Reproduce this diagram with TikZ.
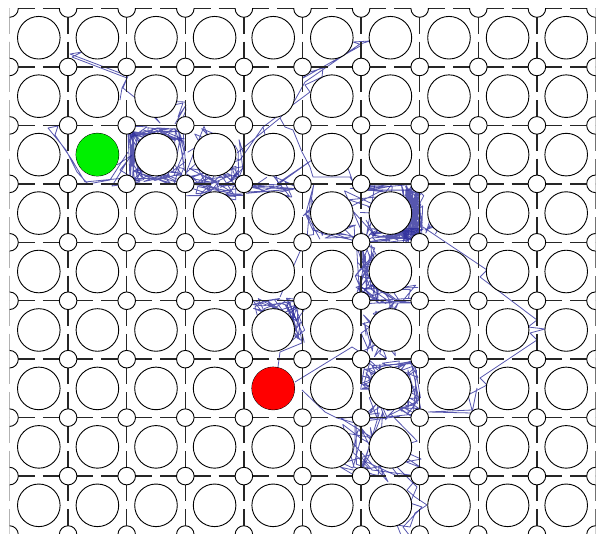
\documentclass[tikz,border=0pt]{standalone}
\definecolor{walkblue}{RGB}{45,45,155}
\definecolor{ggreen}{RGB}{0,240,0}
\definecolor{rred}{RGB}{255,0,0}
\begin{document}
\begin{tikzpicture}[x=1pt,y=-1pt,
  walk/.style={draw=walkblue,line width=0.8pt,draw opacity=0.8,line join=round},
  gridline/.style={draw=black!85,line width=1.5pt},
  smallc/.style={draw=black,fill=white,line width=0.9pt},
  bigc/.style={draw=black,fill=white,line width=0.9pt}]
\pgfmathsetseed{7}
\newcommand{\scrib}[5]{\draw[walk] ({#1+(#3-#1)*rnd},{#2+(#4-#2)*rnd}) \foreach \k in {1,...,#5}{ -- ({#1+(#3-#1)*rnd},{#2+(#4-#2)*rnd}) };}
\useasboundingbox (0,0) rectangle (600,534);
\fill[white] (0,0) rectangle (600,534);
\begin{scope}
\clip (9.5,8.5) rectangle (595.5,540);
% ---------- walks ----------
\draw[walk] (120,100) -- (122,88) -- (127,78) -- (72,57) -- (82,52) -- (70,54) -- (128,76) -- (123,88) -- (138,100) -- (185,102) -- (186,110) -- (180,125);
\draw[walk] (135,98) -- (160,123) -- (150,110) -- (183,103) -- (178,117) -- (186,105) -- (175,124);
\draw[walk] (128,152) -- (110,180) -- (88,184) -- (77,172) -- (66,150) -- (48,128) -- (58,126) -- (55,135) -- (72,160) -- (85,182) -- (125,178);
\draw[walk] (117,165) -- (132,155) -- (120,170) -- (140,182) -- (112,186) -- (128,160);
\scrib{128}{126}{185}{142}{40}
\scrib{128}{126}{142}{183}{30}
\scrib{128}{166}{185}{184}{40}
\scrib{172}{126}{186}{183}{15}
\scrib{186}{166}{245}{200}{55}
\scrib{186}{126}{245}{183}{18}
\scrib{230}{126}{245}{183}{10}
\scrib{240}{176}{302}{198}{20}
\draw[walk] (240,160) -- (263,127) -- (310,92) -- (305,85) -- (322,77) -- (323,68) -- (307,73) -- (303,78) -- (362,45) -- (353,42) -- (370,41) -- (360,44) -- (305,82) -- (295,100) -- (280,118) -- (237,153);
\draw[walk] (280,118) -- (285,127) -- (293,130) -- (302,152) -- (310,167) -- (313,177) -- (350,177) -- (353,182) -- (345,160);
\draw[walk] (263,127) -- (278,183) -- (312,160) -- (280,183);
\scrib{303}{182}{325}{245}{15}
\scrib{303}{225}{362}{245}{15}
\scrib{340}{178}{400}{246}{25}
\scrib{400}{184}{424}{243}{130}
\scrib{368}{228}{424}{243}{40}
\scrib{350}{183}{420}{192}{20}
\scrib{420}{182}{442}{238}{10}
\draw[walk] (423,227) -- (487,270) -- (480,277) -- (537,320) -- (528,327) -- (545,329) -- (530,333) -- (537,340) -- (480,378) -- (487,385) -- (468,395) -- (472,410) -- (428,412) -- (472,413) -- (477,388);
\scrib{355}{244}{380}{302}{45}
\scrib{355}{285}{420}{305}{30}
\draw[walk] (305,240) -- (280,297);
\scrib{245}{298}{305}{322}{35}
\scrib{285}{300}{305}{345}{20}
\draw[walk] (298,317) -- (302,343) -- (280,352) -- (278,367);
\scrib{360}{300}{400}{360}{40}
\scrib{360}{360}{422}{420}{80}
\draw[walk] (295,382) -- (352,347) -- (360,352);
\draw[walk] (302,390) -- (325,412) -- (337,418) -- (355,423) -- (355,447);
\scrib{340}{412}{425}{482}{35}
\draw[walk] (362,458) -- (372,470) -- (410,475) -- (418,477) -- (407,490) -- (415,497) -- (427,505) -- (415,513) -- (410,527) -- (397,525) -- (403,540);
\draw[walk] (397,467) -- (417,487) -- (410,503) -- (422,507) -- (403,527) -- (413,540);
% ---------- grid edges with central gaps ----------
\foreach \j in {0,...,9}{
  \foreach \i in {0,...,9}{
    \pgfmathsetmacro\xa{9.5+58.6*\i}
    \pgfmathsetmacro\xb{9.5+58.6*(\i+1)}
    \pgfmathsetmacro\xm{9.5+58.6*(\i+0.5)}
    \pgfmathsetmacro\yy{8.5+58.45*\j}
    \draw[gridline] (\xa,\yy) -- ({\xm-4},\yy) ({\xm+4},\yy) -- (\xb,\yy);
  }
}
\foreach \i in {0,...,10}{
  \foreach \j in {0,...,8}{
    \pgfmathsetmacro\xx{9.5+58.6*\i}
    \pgfmathsetmacro\ya{8.5+58.45*\j}
    \pgfmathsetmacro\yb{8.5+58.45*(\j+1)}
    \pgfmathsetmacro\ym{8.5+58.45*(\j+0.5)}
    \draw[gridline] (\xx,\ya) -- (\xx,{\ym-4}) (\xx,{\ym+4}) -- (\xx,\yb);
  }
}
% closed (solid) edges
\draw[gridline] (126.7,125.4) -- (185.3,125.4);
\draw[gridline] (185.3,125.4) -- (243.9,125.4);
\draw[gridline] (302.5,242.3) -- (361.1,242.3);
\draw[gridline] (361.1,183.9) -- (419.7,183.9);
\draw[gridline] (361.1,242.3) -- (419.7,242.3);
\draw[gridline] (419.7,183.9) -- (419.7,242.3);
\draw[gridline] (243.9,125.4) -- (243.9,183.9);
\draw[gridline] (126.7,125.4) -- (126.7,183.9);
% ---------- small circles ----------
\foreach \i in {0,...,10}{
  \foreach \j in {0,...,9}{
    \draw[smallc] ({9.5+58.6*\i},{8.5+58.45*\j}) circle (8.8);
  }
}
% ---------- big circles ----------
\foreach \i in {0,...,9}{
  \foreach \j in {0,...,8}{
    \draw[bigc] ({9.5+58.6*(\i+0.5)},{8.5+58.45*(\j+0.5)}) circle (21.3);
  }
}
\fill[ggreen] (97.4,154.6) circle (21.3);
\fill[rred] (273.2,388.4) circle (21.3);
\end{scope}
\end{tikzpicture}
\end{document}
